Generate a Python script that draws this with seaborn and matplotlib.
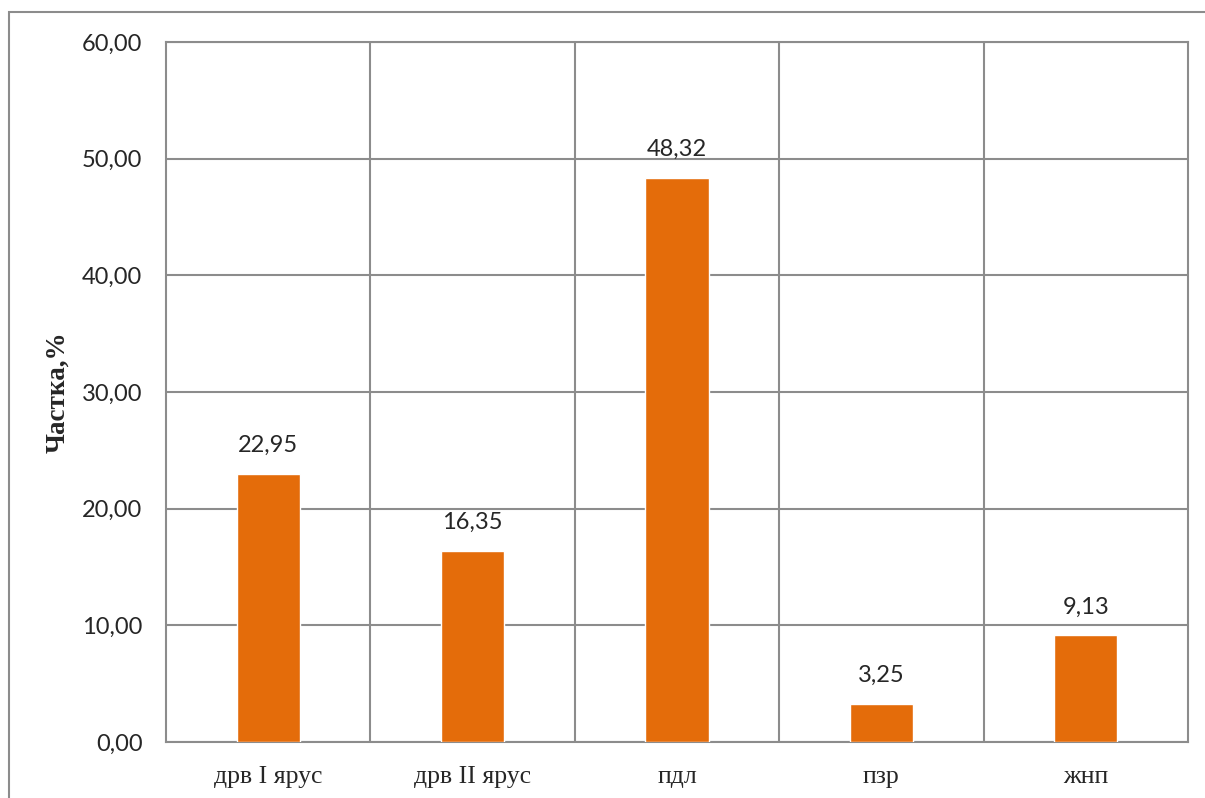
import numpy as np
import pandas as pd
import seaborn as sns
import matplotlib.pyplot as plt
from matplotlib.patches import Rectangle

# Дані діаграми
kategorii = ["дрв I ярус", "дрв II ярус", "пдл", "пзр", "жнп"]
chastka = [22.95, 16.35, 48.32, 3.25, 9.13]
y_ticks = [0, 10, 20, 30, 40, 50, 60]

df = pd.DataFrame({"kat": kategorii, "val": chastka})

sns.set_style("white")
plt.rcParams['font.family'] = ['Lato', 'DejaVu Sans']

W, H = 1205, 798
fig = plt.figure(figsize=(W / 100, H / 100), dpi=100)
ax = fig.add_axes([166 / W, 1 - 742 / H, (1188 - 166) / W, (742 - 42) / H])

grid_c = "#8c8c8c"
sns.barplot(data=df, x="kat", y="val", color="#E46C0A", width=0.31,
            saturation=1, ax=ax, zorder=3)

ax.set_xlim(-0.5, len(kategorii) - 0.5)
ax.set_ylim(0, 60)
ax.set_yticks(y_ticks)
ax.set_yticklabels([f"{v:.2f}".replace(".", ",") for v in y_ticks],
                   fontsize=17, family=['Lato', 'DejaVu Sans'])
ax.set_xticks(range(len(kategorii)))
ax.set_xticklabels(kategorii, fontsize=18.5, family=['Liberation Serif'])
ax.tick_params(axis='both', length=0)
ax.tick_params(axis='y', pad=17)
ax.tick_params(axis='x', pad=17)

# сітка
for y in y_ticks:
    ax.axhline(y, color=grid_c, lw=1.5, zorder=1)
for x in np.arange(0.5, len(kategorii) - 0.5, 1):
    ax.axvline(x, color=grid_c, lw=1.5, zorder=1)
for s in ax.spines.values():
    s.set_color(grid_c)
    s.set_linewidth(1.5)

for i, v in enumerate(chastka):
    ax.text(i, v + 1.55, f"{v:.2f}".replace(".", ","), ha='center', va='bottom',
            fontsize=17, family=['Lato', 'DejaVu Sans'])

ax.set_xlabel("")
ax.set_ylabel("Частка,%", fontsize=19.5, fontweight='bold',
              family=['Liberation Serif'])
ax.yaxis.set_label_coords(-(166 - 58) / (1188 - 166), 0.5)
ax.yaxis.label.set_va('center')

# рамка навколо діаграми
fig.patches.append(Rectangle((9 / W, -0.1), 2, 1 - 12 / H + 0.1,
                             transform=fig.transFigure, fill=False,
                             edgecolor=grid_c, lw=1.5))

fig.savefig("out.png", dpi=100)
